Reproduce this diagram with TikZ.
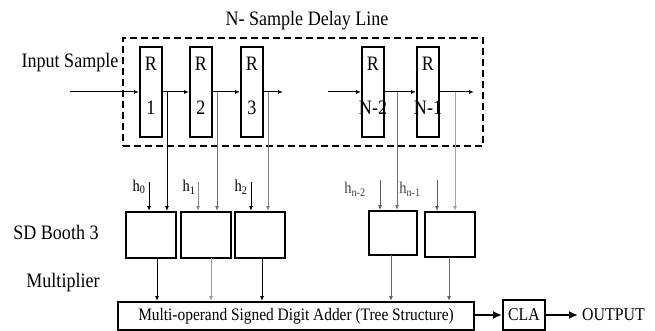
\documentclass[tikz,border=0pt]{standalone}
\usepackage{fontspec}
\setmainfont{Liberation Serif}[FakeStretch=0.88]
\usetikzlibrary{arrows.meta}
\tikzset{
  reg/.style={draw,line width=2pt,minimum width=22pt,minimum height=90pt,inner sep=0pt},
  mult/.style={draw,line width=2pt,minimum width=50pt,minimum height=46pt,inner sep=0pt},
  wire/.style={line width=1pt,-{Latex[length=5pt,width=4pt]}},
  thick wire/.style={line width=2pt,-{Latex[length=9pt,width=8pt]}},
  txt/.style={inner sep=0pt,font=\fontsize{20.5}{24}\selectfont},
  rtxt/.style={inner sep=0pt,font=\fontsize{20.5}{22}\selectfont},
  htxt/.style={inner sep=0pt,font=\fontsize{16.5}{18}\selectfont},
}
\begin{document}
\begin{tikzpicture}[x=1pt,y=-1pt]
\useasboundingbox (0,0) rectangle (655,331);
% delay line frame
\node[draw,dashed,dash pattern=on 7pt off 4pt,line width=2pt,minimum width=360pt,minimum height=108pt,inner sep=0pt] (frame) at (303,92) {};
\node[txt] (title) at (307,21) {N- Sample Delay Line};
\node[txt] (insample) at (70,63) {Input Sample};
% registers
\node[reg] (R1) at (151,92) {};
\node[reg] (R2) at (201,92) {};
\node[reg] (R3) at (252,92) {};
\node[reg] (R4) at (373,92) {};
\node[reg] (R5) at (428,92) {};
\foreach \n/\x/\s in {1/151/1,2/201/2,3/252/3,4/373/N-2,5/428/N-1}{
  \node[rtxt] (Rt\n) at (\x,64) {R};
  \node[rtxt] (Rn\n) at (\x,108) {\s};
}
% delay line wires
\coordinate (in) at (70,92);
\coordinate (o3) at (283,92);
\coordinate (i4) at (328,92);
\coordinate (o5) at (474,92);
\draw[wire] (in) -- (R1.west);
\draw[wire] (R1.east) -- (R2.west);
\draw[wire] (R2.east) -- (R3.west);
\draw[wire] (R3.east) -- (o3);
\draw[wire] (i4) -- (R4.west);
\draw[wire] (R4.east) -- (R5.west);
\draw[wire] (R5.east) -- (o5);
% multipliers
\node[mult] (M1) at (151,235) {};
\node[mult] (M2) at (206,235) {};
\node[mult] (M3) at (260,235) {};
\node[mult,minimum width=48pt,minimum height=44pt] (M4) at (393,233) {};
\node[mult,minimum height=45pt] (M5) at (450,234.5) {};
\node[txt] (sd) at (56,232) {SD Booth 3};
\node[txt] (mul) at (63,283) {Multiplier};
% taps
\coordinate (t1) at (167,92);
\coordinate (t2) at (217,92);
\coordinate (t3) at (268,92);
\coordinate (t4) at (397,92);
\coordinate (t5) at (455,92);
\draw[wire] (t1) -- (t1 |- M1.north);
\draw[wire,black!55] (t2) -- (t2 |- M2.north);
\draw[wire,black!50] (t3) -- (t3 |- M3.north);
\draw[wire,black!55] (t4) -- (t4 |- M4.north);
\draw[wire,black!35] (t5) -- (t5 |- M5.north);
% coefficient inputs
\coordinate (h1) at (149,182);
\coordinate (h2) at (198,182);
\coordinate (h3) at (251,182);
\coordinate (h4) at (380,180);
\coordinate (h5) at (437,180);
\draw[wire] (h1) -- (h1 |- M1.north);
\draw[wire,black!45] (h2) -- (h2 |- M2.north);
\draw[wire] (h3) -- (h3 |- M3.north);
\draw[wire,black!65] (h4) -- (h4 |- M4.north);
\draw[wire,black!65] (h5) -- (h5 |- M5.north);
\node[htxt] (l1) at (139,187) {h\textsubscript{0}};
\node[htxt] (l2) at (189,187) {h\textsubscript{1}};
\node[htxt] (l3) at (241,187) {h\textsubscript{2}};
\node[htxt,black!75] (l4) at (355,189) {h\textsubscript{n-2}};
\node[htxt,black!75] (l5) at (410,189) {h\textsubscript{n-1}};
% adder
\node[draw,line width=2pt,minimum width=356pt,minimum height=28pt,inner sep=0pt,font=\fontsize{17.5}{19}\selectfont] (add) at (296,316) {Multi-operand Signed Digit Adder (Tree Structure)};
\coordinate (a1) at (157,258);
\coordinate (a2) at (211,258);
\coordinate (a3) at (262,258);
\coordinate (a4) at (391,255);
\coordinate (a5) at (449,257);
\draw[wire] (a1) -- (a1 |- add.north);
\draw[wire,black!40] (a2) -- (a2 |- add.north);
\draw[wire] (a3) -- (a3 |- add.north);
\draw[wire,black!60] (a4) -- (a4 |- add.north);
\draw[wire,black!60] (a5) -- (a5 |- add.north);
% CLA and output
\node[draw,line width=2pt,minimum width=42pt,minimum height=30pt,inner sep=0pt,font=\fontsize{18}{19}\selectfont] (cla) at (524,315) {CLA};
\draw[thick wire] (add.east |- cla.west) -- (cla.west);
\coordinate (oe) at (578,315);
\draw[thick wire] (cla.east) -- (oe);
\node[anchor=west,inner sep=0pt,font=\fontsize{18}{19}\selectfont] (out) at (582,315) {OUTPUT};
\end{tikzpicture}
\end{document}
